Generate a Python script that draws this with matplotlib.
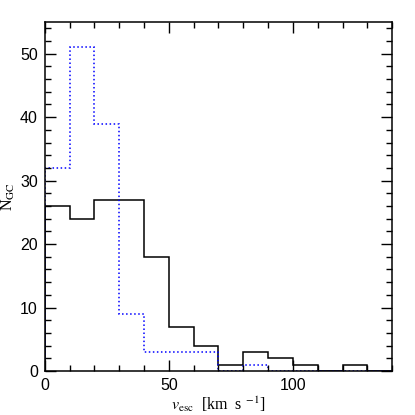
import numpy as np
import matplotlib.pyplot as plt
from matplotlib.ticker import MultipleLocator

# bin edges in km/s
edges = np.arange(0, 150, 10)
# solid black histogram
n_black = [26, 24, 27, 27, 18, 7, 4, 1, 3, 2, 1, 0, 1, 0]
# dotted blue histogram
n_blue = [32, 51, 39, 9, 3, 3, 3, 0, 1, 0, 0, 0, 0, 0]

plt.rcParams['font.family'] = ['Liberation Sans', 'DejaVu Sans']
plt.rcParams['mathtext.fontset'] = 'stix'

fig = plt.figure(figsize=(4.15, 4.15), dpi=100)
ax = fig.add_axes([0.108, 0.106, 0.837, 0.841])

ax.stairs(n_black, edges, color='black', linewidth=1.1)
ax.stairs(n_blue, edges, color='blue', linestyle=':', linewidth=1.1)

ax.set_xlim(0, 140)
ax.set_ylim(0, 55)
ax.xaxis.set_major_locator(MultipleLocator(50))
ax.xaxis.set_minor_locator(MultipleLocator(10))
ax.yaxis.set_major_locator(MultipleLocator(10))
ax.yaxis.set_minor_locator(MultipleLocator(2))
ax.tick_params(which='both', direction='in', top=True, right=True, labelsize=11.5)
ax.tick_params(which='major', length=8, width=1, pad=5)
ax.tick_params(which='minor', length=4, width=1)
for s in ax.spines.values():
    s.set_linewidth(1.1)

ax.set_xlabel(r'$\mathit{v}_{\rm esc}$  [km  s $^{-1}$]', family='Liberation Serif',
              fontsize=11.5, labelpad=1)
ax.set_ylabel(r'N$_{\rm GC}$', family='Liberation Serif', fontsize=11.5)
ax.yaxis.set_label_coords(-0.08, 0.5)

fig.savefig('out.png', dpi=100)
